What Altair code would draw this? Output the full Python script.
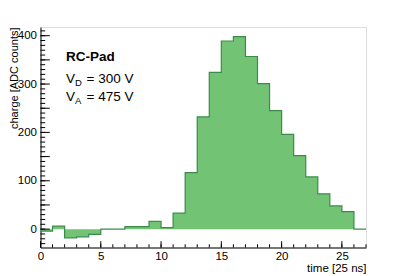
import altair as alt
import pandas as pd

# histogram bin contents (bins of width 1 starting at 0)
bin_edges = list(range(0, 28))
counts = [-4, 6, -18, -16, -11, 0, 0, 5, 5, 16, 3, 33, 117, 232, 324, 389, 398,
          357, 301, 245, 196, 152, 108, 73, 48, 36, 0]

x_major = [0, 5, 10, 15, 20, 25]
x_minor = list(range(0, 28))
y_major = [0, 50, 100, 150, 200, 250, 300, 350, 400]
y_minor = list(range(-30, 420, 10))

W, H = 325.5, 220.5
FONT = "Liberation Sans"

steps = pd.DataFrame({"t": bin_edges, "c": counts + [counts[-1]]})

xs = alt.Scale(domain=[0, 27], nice=False, zero=False)
ys = alt.Scale(domain=[-38, 418], nice=False, zero=False)

x_axis = alt.Axis(values=x_major, ticks=False, grid=False, domainColor="black",
                  labelFont=FONT, labelFontSize=11.5, labelColor="black", labelPadding=3,
                  labelFlush=False,
                  title="time [25 ns]", titleFont=FONT, titleFontSize=11.5,
                  titleFontWeight="normal", titleColor="black",
                  titleAnchor="end", titlePadding=0)
y_axis = alt.Axis(values=y_major, ticks=False, grid=False, domainColor="black",
                  labelFont=FONT, labelFontSize=11.5, labelColor="black", labelPadding=4,
                  labelFlush=False,
                  title="charge [ADC counts]", titleFont=FONT, titleFontSize=11,
                  titleFontWeight="normal", titleColor="black",
                  titleAnchor="end", titleX=-32, titleBaseline="top")

base = alt.Chart(steps)
area = base.mark_area(interpolate="step-after", color="#73c375", opacity=1).encode(
    x=alt.X("t:Q", scale=xs, axis=x_axis),
    y=alt.Y("c:Q", scale=ys, axis=y_axis),
    y2=alt.datum(0),
)
line = base.mark_line(interpolate="step-after", color="#3b8b4b", strokeWidth=1.2).encode(
    x=alt.X("t:Q", scale=xs),
    y=alt.Y("c:Q", scale=ys),
)

xmaj = alt.Chart(pd.DataFrame({"v": x_major})).mark_rule(color="black", strokeWidth=1).encode(
    x=alt.X("v:Q", scale=xs), y=alt.value(H), y2=alt.value(H - 6.3))
xmin = alt.Chart(pd.DataFrame({"v": x_minor})).mark_rule(color="black", strokeWidth=1).encode(
    x=alt.X("v:Q", scale=xs), y=alt.value(H), y2=alt.value(H - 3.2))
ymaj = alt.Chart(pd.DataFrame({"v": y_major})).mark_rule(color="black", strokeWidth=1).encode(
    y=alt.Y("v:Q", scale=ys), x=alt.value(0), x2=alt.value(9.3))
ymin = alt.Chart(pd.DataFrame({"v": y_minor})).mark_rule(color="black", strokeWidth=1).encode(
    y=alt.Y("v:Q", scale=ys), x=alt.value(0), x2=alt.value(4.7))

def txt(s, x, y, size=13.5, weight="normal"):
    return alt.Chart(pd.DataFrame({"s": [s]})).mark_text(
        font=FONT, fontSize=size, fontWeight=weight, align="left",
        baseline="alphabetic", color="black").encode(
        text="s:N", x=alt.value(x), y=alt.value(y))

labels = (txt("RC-Pad", 25.5, 34, 13.5, "bold")
          + txt("V", 25.5, 55.5) + txt("D", 34.5, 58.5, 9.5) + txt("= 300 V", 46, 55.5)
          + txt("V", 25.5, 74) + txt("A", 34.5, 77, 9.5) + txt("= 475 V", 46, 74))

chart = alt.layer(area, line, xmin, xmaj, ymin, ymaj, labels).properties(
    width=W, height=H,
    autosize=alt.AutoSizeParams(type="none"),
    padding={"left": 32.5, "top": 19, "right": 33, "bottom": 28},
).configure_view(stroke="#888888", strokeWidth=1.2).configure(background="white")

chart.save("out.html", embed_options={"renderer": "svg", "actions": False})
